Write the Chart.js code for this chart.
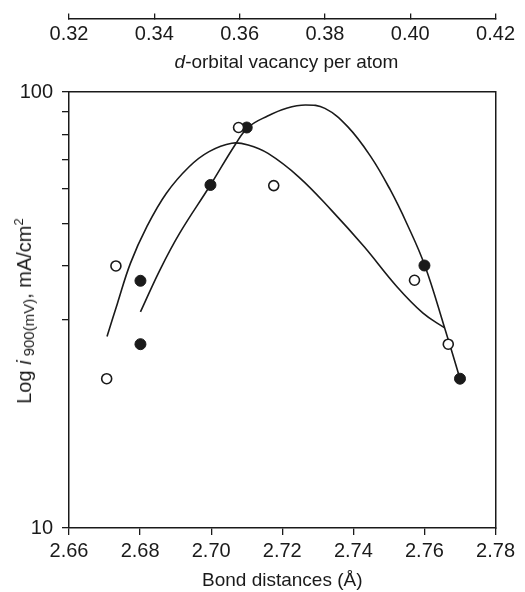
<!DOCTYPE html>
<html>
<head>
<meta charset="utf-8">
<script src="https://cdn.jsdelivr.net/npm/chart.js@4.4.1/dist/chart.umd.min.js"></script>
<style>
html,body{margin:0;padding:0;background:#fff;}
#wrap{position:relative;width:525px;height:592px;overflow:hidden;}
#wrap canvas{position:absolute;left:0;top:0;}
.lbl{position:absolute;font-family:"Liberation Sans",Arial,Helvetica,sans-serif;font-size:19px;line-height:22px;color:#1a1a1a;white-space:nowrap;}
#topTitle{left:69px;width:435px;top:51px;text-align:center;}
#yTitle{left:24px;top:311px;font-size:20px;transform:translate(-50%,-50%) rotate(-90deg);}
#yTitle sub{font-size:15px;vertical-align:-3px;}
#yTitle sup{font-size:13px;vertical-align:8px;}
</style>
</head>
<body>
<div id="wrap">
  <canvas id="c" width="525" height="592"></canvas>
  <div class="lbl" id="topTitle"><i>d</i>-orbital vacancy per atom</div>
  <div class="lbl" id="yTitle">Log <i>i</i>&thinsp;<sub>900(mV)</sub>, mA/cm<sup>2</sup></div>
</div>
<script>
// ---- Data ----
const bottomTicks = [2.66, 2.68, 2.70, 2.72, 2.74, 2.76, 2.78];
const topTicks = [0.32, 0.34, 0.36, 0.38, 0.40, 0.42];
const yTicks = [10, 30, 40, 50, 60, 70, 80, 90, 100];
const yLabelled = [10, 100];

// open circles
const openX = [2.6706, 2.6732, 2.7077, 2.7176, 2.7572, 2.7667];
const openY = [22.0, 39.9, 82.9, 61.0, 37.0, 26.4];
// filled circles
const filledX = [2.6801, 2.6801, 2.6998, 2.7100, 2.7600, 2.7700];
const filledY = [36.9, 26.4, 61.2, 82.9, 40.0, 22.0];

// fitted curve through open circles
const curveAX = [2.6707, 2.6736, 2.6773, 2.6819, 2.6874, 2.6938, 2.6994, 2.7058, 2.7104, 2.7160, 2.7246, 2.7338, 2.7430, 2.7522, 2.7596, 2.7656];
const curveAY = [27.5, 32.7, 40.5, 49.1, 58.6, 67.4, 73.0, 76.3, 75.6, 72.3, 63.9, 53.6, 44.2, 35.8, 31.1, 28.8];
// fitted curve through filled circles
const curveBX = [2.6801, 2.6856, 2.6911, 2.6998, 2.7067, 2.7104, 2.7160, 2.7210, 2.7265, 2.7320, 2.7384, 2.7449, 2.7504, 2.7550, 2.7601, 2.7656, 2.7700];
const curveBY = [31.3, 39.1, 47.4, 61.2, 75.6, 83.0, 88.2, 91.7, 93.4, 91.7, 83.3, 71.1, 59.6, 50.0, 40.0, 28.9, 22.0];

const pts = (xs, ys) => xs.map((x, i) => ({x: x, y: ys[i]}));

const INK = '#1a1a1a';
const FONT = {family: '"Liberation Sans", Arial, Helvetica, sans-serif', size: 19};
const TICKFONT = {family: '"Liberation Sans", Arial, Helvetica, sans-serif', size: 20};
const fix2 = v => Number(v).toFixed(2);

new Chart(document.getElementById('c'), {
  type: 'scatter',
  data: {
    datasets: [
      {
        data: pts(openX, openY),
        showLine: false,
        pointStyle: 'circle',
        pointRadius: 5,
        pointBackgroundColor: '#ffffff',
        pointBorderColor: INK,
        pointBorderWidth: 1.6,
        xAxisID: 'x', yAxisID: 'y'
      },
      {
        data: pts(filledX, filledY),
        showLine: false,
        pointStyle: 'circle',
        pointRadius: 5.5,
        pointBackgroundColor: INK,
        pointBorderColor: INK,
        pointBorderWidth: 1,
        xAxisID: 'x', yAxisID: 'y'
      },
      {
        type: 'line',
        data: pts(curveAX, curveAY),
        showLine: true,
        borderColor: INK,
        borderWidth: 1.6,
        pointRadius: 0,
        tension: 0.4,
        fill: false,
        xAxisID: 'x', yAxisID: 'y'
      },
      {
        type: 'line',
        data: pts(curveBX, curveBY),
        showLine: true,
        borderColor: INK,
        borderWidth: 1.6,
        pointRadius: 0,
        tension: 0.4,
        fill: false,
        xAxisID: 'x', yAxisID: 'y'
      }
    ]
  },
  options: {
    responsive: false,
    animation: false,
    devicePixelRatio: 1,
    layout: {padding: {top: 92, right: 21, left: 0, bottom: 0}},
    plugins: {legend: {display: false}, tooltip: {enabled: false}},
    scales: {
      x: {
        type: 'linear',
        position: 'bottom',
        min: 2.66, max: 2.78,
        afterBuildTicks: s => { s.ticks = bottomTicks.map(v => ({value: v})); },
        afterFit: s => { s.height = 64; },
        ticks: {color: INK, font: TICKFONT, padding: 4, maxRotation: 0, autoSkip: false, callback: v => fix2(v)},
        grid: {display: true, drawOnChartArea: false, drawTicks: true, tickLength: 7, color: INK, lineWidth: 1.3},
        border: {display: true, color: INK, width: 1.5},
        title: {display: true, text: 'Bond distances (Å)', color: INK, font: FONT, padding: 0}
      },
      y: {
        type: 'logarithmic',
        position: 'left',
        min: 10, max: 100,
        afterBuildTicks: s => { s.ticks = yTicks.map(v => ({value: v})); },
        afterFit: s => { s.width = 69; },
        ticks: {color: INK, font: TICKFONT, padding: 9, autoSkip: false, callback: v => (yLabelled.includes(v) ? String(v) : '')},
        grid: {display: true, drawOnChartArea: false, drawTicks: true, tickLength: 7, color: INK, lineWidth: 1.3},
        border: {display: true, color: INK, width: 1.5}
      },
      xTop: {
        type: 'linear',
        position: {y: 147.5},
        min: 0.32, max: 0.42,
        afterBuildTicks: s => { s.ticks = topTicks.map(v => ({value: v})); },
        ticks: {color: INK, font: TICKFONT, padding: 10, maxRotation: 0, autoSkip: false, callback: v => fix2(v)},
        grid: {display: true, drawOnChartArea: false, drawTicks: true, tickLength: -6, color: INK, lineWidth: 1.3},
        border: {display: true, color: INK, width: 1.5}
      },
      frameTop: {
        type: 'linear',
        position: 'top',
        afterFit: s => { s.height = 0; },
        ticks: {display: false},
        grid: {display: false, drawTicks: false},
        border: {display: true, color: INK, width: 1.5}
      },
      frameRight: {
        type: 'linear',
        position: 'right',
        afterFit: s => { s.width = 0; },
        ticks: {display: false},
        grid: {display: false, drawTicks: false},
        border: {display: true, color: INK, width: 1.5}
      }
    }
  }
});
</script>
</body>
</html>
